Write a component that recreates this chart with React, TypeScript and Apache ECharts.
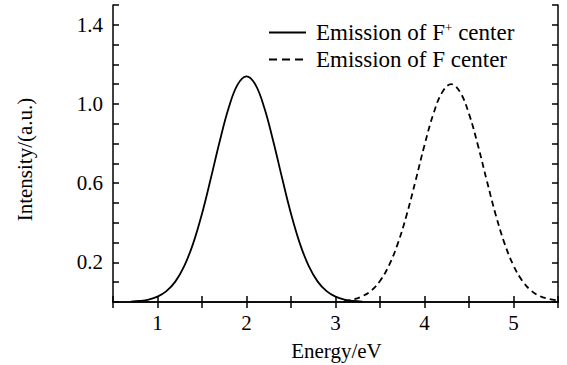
import React, { useEffect, useRef } from "react";
import * as echarts from "echarts";

const energyFPlus = [0.7, 0.8, 0.9, 1.0, 1.1, 1.2, 1.3, 1.4, 1.5, 1.6, 1.7, 1.8, 1.9, 2.0, 2.1, 2.2, 2.3, 2.4, 2.5, 2.6, 2.7, 2.8, 2.9, 3.0, 3.1, 3.2, 3.3];
const intensityFPlus = [0.002, 0.005, 0.012, 0.027, 0.055, 0.103, 0.181, 0.295, 0.446, 0.626, 0.813, 0.981, 1.098, 1.14, 1.098, 0.981, 0.813, 0.626, 0.446, 0.295, 0.181, 0.103, 0.055, 0.027, 0.012, 0.005, 0.002];

const energyF = [3.1, 3.2, 3.3, 3.4, 3.5, 3.6, 3.7, 3.8, 3.9, 4.0, 4.1, 4.2, 4.3, 4.4, 4.5, 4.6, 4.7, 4.8, 4.9, 5.0, 5.1, 5.2, 5.3, 5.4, 5.5];
const intensityF = [0.006, 0.013, 0.029, 0.057, 0.106, 0.184, 0.295, 0.441, 0.613, 0.792, 0.95, 1.06, 1.1, 1.06, 0.95, 0.792, 0.613, 0.441, 0.295, 0.184, 0.106, 0.057, 0.029, 0.015, 0.008];

const xTickLabels = ["1", "2", "3", "4", "5"];
const yTickLabels = ["0.2", "0.6", "1.0", "1.4"];

const FONT = "Liberation Serif";

export default function App() {
  const ref = useRef<HTMLDivElement>(null);
  useEffect(() => {
    if (!ref.current) return;
    const chart = echarts.init(ref.current, undefined, { renderer: "svg" });
    const axisLine = { show: true, lineStyle: { color: "#000", width: 1.5 } };
    const tick = { show: true, inside: true, length: 6, lineStyle: { color: "#000", width: 1.5 } };
    const fmtX = (v: number) => {
      const s = String(Math.round(v * 10) / 10);
      return xTickLabels.includes(s) ? s : "";
    };
    const fmtY = (v: number) => {
      const s = (Math.round(v * 10) / 10).toFixed(1);
      return yTickLabels.includes(s) ? s : "";
    };
    chart.setOption({
      animation: false,
      backgroundColor: "#fff",
      grid: { left: 113, right: 9, top: 5, bottom: 63 },
      legend: {
        orient: "vertical",
        left: 263,
        top: 16,
        itemWidth: 37,
        itemHeight: 10,
        itemGap: 4,
        itemStyle: { opacity: 0 },
        textStyle: {
          fontFamily: FONT,
          fontSize: 23,
          color: "#000",
          rich: {
            n0: { fontFamily: FONT, fontSize: 23, color: "#000", lineHeight: 23, padding: [0, 0, 0, 5] },
            n: { fontFamily: FONT, fontSize: 23, color: "#000", lineHeight: 23 },
            sup: { fontFamily: FONT, fontSize: 13, color: "#000", verticalAlign: "top", lineHeight: 23 },
          },
        },
        formatter: (name: string) =>
          name === "F+" ? "{n0|Emission of F}{sup|+}{n| center}" : "{n0|Emission of F center}",
        data: [
          { name: "F+" },
          { name: "F", lineStyle: { type: [8, 5] } },
        ],
      },
      xAxis: [
        {
          type: "value",
          min: 0.5,
          max: 5.5,
          interval: 0.5,
          position: "bottom",
          axisLine,
          axisTick: tick,
          splitLine: { show: false },
          axisLabel: { formatter: fmtX, fontFamily: FONT, fontSize: 21, color: "#000", margin: 10 },
        },
        {
          type: "value",
          min: 0.5,
          max: 5.5,
          interval: 0.5,
          position: "top",
          axisLine,
          axisTick: tick,
          splitLine: { show: false },
          axisLabel: { show: false },
        },
      ],
      yAxis: [
        {
          type: "value",
          min: 0,
          max: 1.5,
          interval: 0.1,
          position: "left",
          axisLine,
          axisTick: tick,
          splitLine: { show: false },
          axisLabel: { formatter: fmtY, fontFamily: FONT, fontSize: 21, color: "#000", margin: 10 },
        },
        {
          type: "value",
          min: 0,
          max: 1.5,
          interval: 0.1,
          position: "right",
          axisLine,
          axisTick: tick,
          splitLine: { show: false },
          axisLabel: { show: false },
        },
      ],
      graphic: [
        {
          type: "text",
          x: 25,
          y: 159.5,
          rotation: Math.PI / 2,
          style: { text: "Intensity/(a.u.)", fontFamily: FONT, fontSize: 21, fill: "#000", align: "center", verticalAlign: "middle" },
        },
        {
          type: "text",
          x: 336.5,
          y: 351,
          style: { text: "Energy/eV", fontFamily: FONT, fontSize: 21, fill: "#000", align: "center", verticalAlign: "middle" },
        },
      ],
      series: [
        {
          name: "F+",
          type: "line",
          smooth: 0.4,
          symbol: "none",
          data: energyFPlus.map((x, i) => [x, intensityFPlus[i]]),
          lineStyle: { color: "#000", width: 1.8, type: "solid" },
          itemStyle: { color: "#000" },
        },
        {
          name: "F",
          type: "line",
          smooth: 0.4,
          symbol: "none",
          data: energyF.map((x, i) => [x, intensityF[i]]),
          lineStyle: { color: "#000", width: 1.8, type: [6, 4] },
          itemStyle: { color: "#000" },
        },
      ],
    });
    return () => chart.dispose();
  }, []);
  return <div ref={ref} style={{ width: 567, height: 365, position: "absolute", left: 0, top: 0 }} />;
}
